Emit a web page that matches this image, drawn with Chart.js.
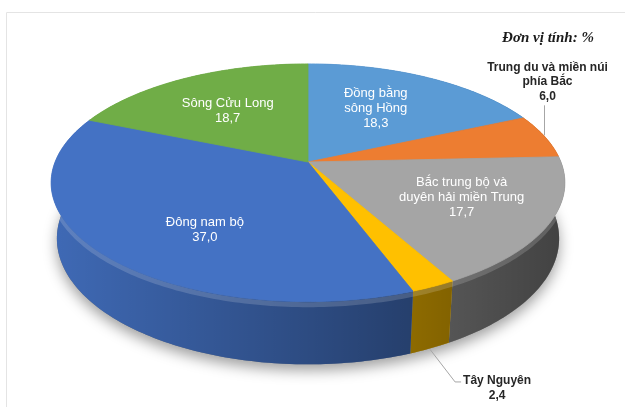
<!DOCTYPE html>
<html>
<head>
<meta charset="utf-8">
<script src="https://cdn.jsdelivr.net/npm/chart.js@4.4.1/dist/chart.umd.min.js"></script>
<style>
  html, body { margin: 0; padding: 0; background: #ffffff; overflow: hidden; }
  canvas { display: block; }
</style>
</head>
<body>
<canvas id="chart" width="625" height="407"></canvas>
<script>
// Regions (each name split into its display lines) and their shares, in %
const regions = [
  ['Đồng bằng', 'sông Hồng'],
  ['Trung du và miền núi', 'phía Bắc'],
  ['Bắc trung bộ và', 'duyên hải miền Trung'],
  ['Tây Nguyên'],
  ['Đông nam bộ'],
  ['Sông Cửu Long']
];
const shares = [18.3, 6.0, 17.7, 2.4, 37.0, 18.7];
const sliceColors = ['#5B9BD5', '#ED7D31', '#A5A5A5', '#FFC000', '#4472C4', '#70AD47'];
const unitNote = 'Đơn vị tính: %';

// How each value label is placed: inside the slice, or on a leader line
const labelPlacement = [
  { kind: 'inside', r: 0.6, dx: -8, dy: 0 },
  { kind: 'above' },
  { kind: 'inside', r: 0.6, dx: 14, dy: 0 },
  { kind: 'below' },
  { kind: 'inside', r: 0.6, dx: 15, dy: 16 },
  { kind: 'inside', r: 0.6, dx: -3, dy: 2 }
];

// Perspective view of the pie: tilt of the disc, camera distance, lens, thickness
const TILT = 27.1 * Math.PI / 180;
const SIN_T = Math.sin(TILT), COS_T = Math.cos(TILT);
const DIST = 5.1, LENS = 12.9, DEPTH = 0.25;

const fmt = v => v.toFixed(1).replace('.', ',');

function projector(arc) {
  const cx = arc.x, cy = arc.y, F = arc.outerRadius * LENS;
  // a: library angle (clockwise from +x), r: fraction of radius, h: height (0 = top face)
  return (a, r, h) => {
    const u = r * Math.cos(a), v = -r * Math.sin(a);
    const yc = v * SIN_T + h * COS_T;
    const z = DIST + v * COS_T - h * SIN_T;
    return [cx + F * u / z, cy - F * yc / z];
  };
}

function rim(P, a1, a2, r, h) {
  const n = Math.max(2, Math.ceil(Math.abs(a2 - a1) / (Math.PI / 180)));
  const pts = [];
  for (let i = 0; i <= n; i++) pts.push(P(a1 + (a2 - a1) * i / n, r, h));
  return pts;
}

function tracePath(ctx, pts, close = true) {
  ctx.beginPath();
  ctx.moveTo(pts[0][0], pts[0][1]);
  for (let i = 1; i < pts.length; i++) ctx.lineTo(pts[i][0], pts[i][1]);
  if (close) ctx.closePath();
}

const frame = {
  id: 'frame',
  beforeDraw(chart) {
    const ctx = chart.ctx;
    ctx.save();
    ctx.strokeStyle = '#e4e4e4';
    ctx.lineWidth = 1;
    ctx.beginPath();
    ctx.moveTo(6.5, 407);
    ctx.lineTo(6.5, 12.5);
    ctx.lineTo(625, 12.5);
    ctx.stroke();
    ctx.restore();
  }
};

const pie3d = {
  id: 'pie3d',
  beforeDatasetsDraw(chart) {
    const ctx = chart.ctx;
    const arcs = chart.getDatasetMeta(0).data;
    const P = projector(arcs[0]);
    const cx = arcs[0].x, cy = arcs[0].y;
    const halfW = arcs[0].outerRadius * LENS / DIST;

    ctx.save();
    // soft shadow under the disc
    ctx.save();
    ctx.shadowColor = 'rgba(0,0,0,0.38)';
    ctx.shadowBlur = 14;
    ctx.shadowOffsetY = 6;
    tracePath(ctx, rim(P, 0, Math.PI * 2, 1, -DEPTH));
    ctx.fillStyle = '#777';
    ctx.fill();
    ctx.restore();

    // side walls, darker toward the right
    const shade = ctx.createLinearGradient(cx - halfW, 0, cx + halfW, 0);
    shade.addColorStop(0, 'rgba(0,0,0,0.08)');
    shade.addColorStop(1, 'rgba(0,0,0,0.60)');
    const wallPaths = [];
    arcs.forEach((arc, i) => {
      const top = rim(P, arc.startAngle, arc.endAngle, 1, 0);
      const bottom = rim(P, arc.endAngle, arc.startAngle, 1, -DEPTH);
      const pts = top.concat(bottom);
      wallPaths.push(pts);
      tracePath(ctx, pts);
      ctx.fillStyle = sliceColors[i];
      ctx.fill();
      ctx.fillStyle = shade;
      ctx.fill();
    });

    // faint bevel along the upper edge of the front wall
    ctx.save();
    ctx.beginPath();
    wallPaths.forEach(pts => {
      ctx.moveTo(pts[0][0], pts[0][1]);
      for (let k = 1; k < pts.length; k++) ctx.lineTo(pts[k][0], pts[k][1]);
      ctx.closePath();
    });
    ctx.clip();
    tracePath(ctx, rim(P, -0.1, Math.PI + 0.1, 1, -0.012), false);
    ctx.strokeStyle = 'rgba(255,255,255,0.16)';
    ctx.lineWidth = 5;
    ctx.stroke();
    ctx.restore();

    // top faces
    arcs.forEach((arc, i) => {
      const pts = [[cx, cy]].concat(rim(P, arc.startAngle, arc.endAngle, 1, 0));
      tracePath(ctx, pts);
      ctx.fillStyle = sliceColors[i];
      ctx.fill();
      ctx.strokeStyle = sliceColors[i];
      ctx.lineWidth = 0.8;
      ctx.stroke();
    });
    ctx.restore();
    return false;
  },
  afterDraw(chart) {
    const ctx = chart.ctx;
    const arcs = chart.getDatasetMeta(0).data;
    const P = projector(arcs[0]);
    const inner = '13px "Liberation Sans", Arial, sans-serif';
    const outer = 'bold 12px "Liberation Sans", Arial, sans-serif';
    ctx.save();
    ctx.textAlign = 'center';
    ctx.textBaseline = 'middle';

    arcs.forEach((arc, i) => {
      const place = labelPlacement[i];
      const mid = (arc.startAngle + arc.endAngle) / 2;
      const lines = regions[i].concat([fmt(shares[i])]);
      if (place.kind === 'inside') {
        const [x, y] = P(mid, place.r, 0);
        const lh = 15;
        const y0 = y + place.dy - (lines.length - 1) * lh / 2;
        ctx.font = inner;
        ctx.fillStyle = '#ffffff';
        lines.forEach((t, k) => ctx.fillText(t, x + place.dx, y0 + k * lh));
      } else if (place.kind === 'above') {
        const [ax, ay] = P(mid, 1, 0);
        ctx.strokeStyle = '#a6a6a6';
        ctx.lineWidth = 1;
        ctx.beginPath();
        ctx.moveTo(Math.round(ax) + 0.5, ay - 1);
        ctx.lineTo(Math.round(ax) + 0.5, ay - 31);
        ctx.stroke();
        const lh = 14.5;
        ctx.font = outer;
        ctx.fillStyle = '#262626';
        const yLast = ay - 40;
        lines.forEach((t, k) => ctx.fillText(t, ax + 3, yLast - (lines.length - 1 - k) * lh));
      } else {
        const [ax, ay] = P(mid, 1, -DEPTH);
        const ex = ax + 25, ey = ay + 33;
        ctx.strokeStyle = '#a6a6a6';
        ctx.lineWidth = 1;
        ctx.beginPath();
        ctx.moveTo(ax, ay + 1);
        ctx.lineTo(ex, ey + 0.5);
        ctx.lineTo(ex + 6, ey + 0.5);
        ctx.stroke();
        ctx.font = outer;
        ctx.fillStyle = '#262626';
        const w = ctx.measureText(lines[0]).width;
        const tx = ex + 8 + w / 2;
        lines.forEach((t, k) => ctx.fillText(t, tx, ey - 1 + k * 15));
      }
    });

    ctx.font = 'italic bold 15px "Liberation Serif", "Times New Roman", serif';
    ctx.fillStyle = '#1a1a1a';
    ctx.fillText(unitNote, 548, 38);
    ctx.restore();
  }
};

new Chart(document.getElementById('chart'), {
  type: 'pie',
  data: {
    labels: regions,
    datasets: [{
      data: shares,
      backgroundColor: sliceColors,
      borderWidth: 0
    }]
  },
  options: {
    responsive: false,
    animation: false,
    events: [],
    layout: { padding: { left: 208, right: 217, top: 62, bottom: 145 } },
    plugins: {
      legend: { display: false },
      tooltip: { enabled: false }
    }
  },
  plugins: [frame, pie3d]
});
</script>
</body>
</html>
